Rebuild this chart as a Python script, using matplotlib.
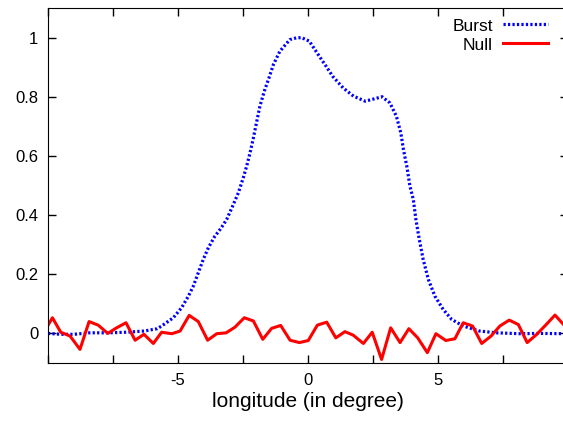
import matplotlib
matplotlib.use('Agg')
import matplotlib.pyplot as plt

plt.rcParams['font.family'] = ['Liberation Sans', 'DejaVu Sans']

# burst profile (smooth, normalised)
burst_x = [-10.0, -9.5, -9.0, -8.4, -7.7, -7.0, -6.3, -5.8, -5.63, -5.18, -4.86, -4.60,
           -4.41, -4.22, -4.03, -3.83, -3.58, -3.35, -3.13, -2.87, -2.68, -2.49, -2.36,
           -2.23, -2.10, -1.97, -1.85, -1.68, -1.50, -1.33, -1.08, -0.7, -0.45, -0.25,
           0.05, 0.35, 0.65, 0.95, 1.35, 1.75, 2.2, 2.55, 2.85, 3.15, 3.4, 3.57, 3.67,
           3.8, 3.92, 4.05, 4.15, 4.28, 4.43, 4.63, 4.88, 5.2, 5.53, 5.97, 6.6, 7.25,
           8.15, 8.9, 10.0]
burst_y = [0.0, -0.003, -0.003, 0.002, 0.002, 0.004, 0.008, 0.016, 0.025, 0.053, 0.087,
           0.126, 0.16, 0.205, 0.25, 0.29, 0.329, 0.355, 0.385, 0.436, 0.475, 0.526,
           0.565, 0.61, 0.661, 0.717, 0.768, 0.819, 0.864, 0.909, 0.954, 0.993, 0.999,
           1.0, 0.988, 0.948, 0.909, 0.869, 0.830, 0.802, 0.785, 0.793, 0.800, 0.779,
           0.734, 0.678, 0.622, 0.565, 0.498, 0.453, 0.385, 0.318, 0.25, 0.182, 0.126,
           0.081, 0.047, 0.025, 0.008, 0.002, -0.001, 0.0, -0.001]

# null profile
null_x = [-10.18, -9.83, -9.51, -9.15, -8.77, -8.42, -8.07, -7.70, -7.36, -7.00, -6.65,
          -6.31, -5.95, -5.63, -5.24, -4.92, -4.57, -4.22, -3.86, -3.51, -3.15, -2.81,
          -2.45, -2.10, -1.74, -1.40, -1.05, -0.69, -0.33, 0.01, 0.36, 0.72, 1.07, 1.42,
          1.74, 2.13, 2.47, 2.83, 3.18, 3.54, 3.88, 4.22, 4.59, 4.92, 5.30, 5.65, 5.97,
          6.33, 6.68, 7.04, 7.38, 7.74, 8.09, 8.43, 8.80, 9.14, 9.50, 9.85]
null_y = [0.0, 0.053, 0.004, -0.009, -0.054, 0.040, 0.028, 0.000, 0.019, 0.036, -0.023,
          -0.003, -0.034, 0.004, -0.001, 0.008, 0.061, 0.040, -0.023, -0.001, 0.002,
          0.021, 0.053, 0.042, -0.020, 0.017, 0.027, -0.023, -0.031, -0.024, 0.028,
          0.038, -0.015, 0.006, -0.006, -0.034, 0.004, -0.088, 0.019, -0.031, 0.016,
          -0.015, -0.065, -0.001, -0.024, -0.018, 0.036, 0.025, -0.034, -0.009, 0.025,
          0.045, 0.030, -0.031, -0.003, 0.028, 0.062, 0.028]

x_ticks = [-10, -7.5, -5, -2.5, 0, 2.5, 5, 7.5, 10]
x_labels = ['', '', '-5', '', '0', '', '5', '', '']
y_ticks = [0, 0.2, 0.4, 0.6, 0.8, 1.0]
y_labels = ['0', '0.2', '0.4', '0.6', '0.8', '1']

fig = plt.figure(figsize=(5.63, 4.29), dpi=100)
ax = fig.add_axes([48 / 563, 66 / 429, 520 / 563, 355 / 429])

ax.plot(burst_x, burst_y, color='#0000ff', lw=2.3, linestyle=(0, (0.7, 0.7)),
        dash_capstyle='butt', label='Burst')
ax.plot(null_x, null_y, color='#ff0000', lw=2.2, label='Null')

ax.set_xlim(-10, 10)
ax.set_ylim(-0.1, 1.1)
ax.set_xticks(x_ticks)
ax.set_xticklabels(x_labels)
ax.set_yticks(y_ticks)
ax.set_yticklabels(y_labels)
ax.tick_params(direction='in', length=6, width=1, top=True, right=True,
               labelsize=12, pad=7)
ax.set_xlabel('longitude (in degree)', fontsize=15, labelpad=3)

ax.legend(loc='upper right', bbox_to_anchor=(0.982, 1.0), frameon=False,
          markerfirst=False, fontsize=12.5, handlelength=2.6, handletextpad=0.6,
          labelspacing=0.22, borderaxespad=0.2)

fig.savefig('out.png', dpi=100)
